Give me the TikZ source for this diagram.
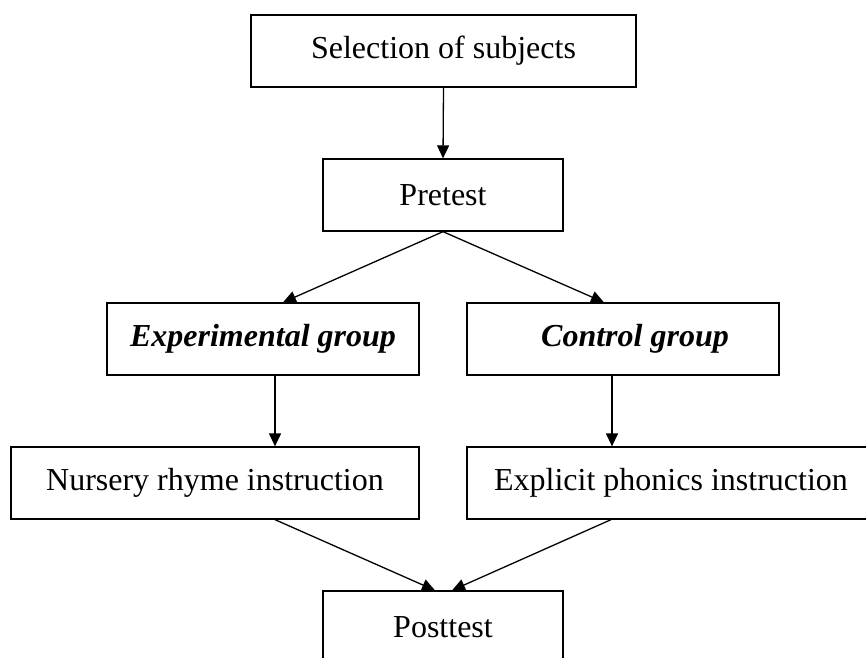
\documentclass[tikz,border=0pt]{standalone}
\usepackage{fontspec}
\setmainfont{Liberation Serif}
\usetikzlibrary{arrows.meta}
\begin{document}
\begin{tikzpicture}[x=1pt,y=-1pt,
  box/.style={draw, line width=1.3pt, minimum height=72pt, inner sep=0pt,
    font=\fontsize{32}{38}\selectfont},
  grp/.style={box, font=\fontsize{32}{38}\selectfont\bfseries\itshape},
  arr/.style={line width=1.3pt, -{Triangle[width=12pt,length=13pt]}}]
\useasboundingbox (0,0) rectangle (866,657);
\node[box, minimum width=385pt] (sel) at (443.5,51) {Selection of subjects};
\node[box, minimum width=240pt] (pre) at (443,195) {Pretest};
\node[grp, minimum width=312pt] (exp) at (263,339) {Experimental group};
\node[grp, minimum width=312pt] (con) at (623,339) {\hspace*{24pt}Control group};
\node[box, minimum width=408pt] (nur) at (215,483) {Nursery rhyme instruction};
\node[box, minimum width=408pt] (phon) at (671,483) {Explicit phonics instruction};
\node[box, minimum width=240pt] (post) at (443,627) {Posttest};
\draw[arr] (sel.south) -- (pre.north);
\draw[arr] (pre.south) -- ([xshift=20pt]exp.north);
\draw[arr] (pre.south) -- ([xshift=-19pt]con.north);
\draw[arr] ([xshift=12pt]exp.south) -- ([xshift=60pt]nur.north);
\draw[arr] ([xshift=-11pt]con.south) -- ([xshift=-59pt]phon.north);
\draw[arr] ([xshift=60pt]nur.south) -- ([xshift=-8pt]post.north);
\draw[arr] ([xshift=-60pt]phon.south) -- ([xshift=9pt]post.north);
\end{tikzpicture}
\end{document}
